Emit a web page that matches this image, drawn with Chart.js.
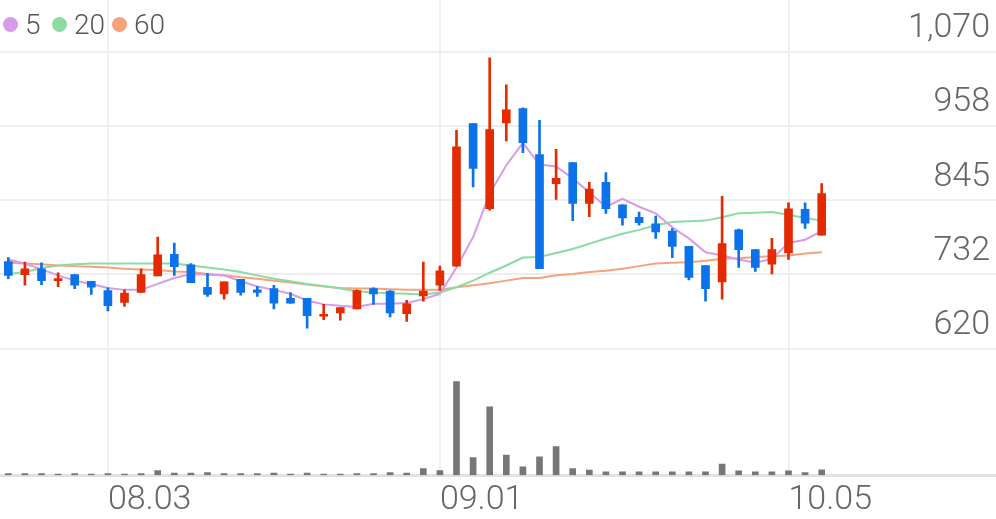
<!DOCTYPE html>
<html>
<head>
<meta charset="utf-8">
<script src="https://cdn.jsdelivr.net/npm/chart.js@4"></script>
<style>
  body { margin: 0; background: #fff; }
  #wrap { position: relative; width: 996px; height: 519px; overflow: hidden; }
  .dot { position: absolute; top: 17px; width: 15px; height: 15px; border-radius: 50%; }
  .lbl { position: absolute; top: 11px; font: 300 28px Roboto, sans-serif; line-height: 28px; color: #555; }
</style>
</head>
<body>
<div id="wrap">
  <canvas id="grafico" width="996" height="519"></canvas>
  <span class="dot" style="left:3px;background:#d89aea"></span><span class="lbl" style="left:25px">5</span>
  <span class="dot" style="left:52px;background:#8cdba3"></span><span class="lbl" style="left:74px">20</span>
  <span class="dot" style="left:112px;background:#f7a27b"></span><span class="lbl" style="left:134px">60</span>
</div>
<script>
// trading days (2020)
const dates = ['07.24','07.27','07.28','07.29','07.30','07.31',
  '08.03','08.04','08.05','08.06','08.07','08.10','08.11','08.12','08.13','08.14',
  '08.18','08.19','08.20','08.21','08.24','08.25','08.26','08.27','08.28','08.31',
  '09.01','09.02','09.03','09.04','09.07','09.08','09.09','09.10','09.11',
  '09.14','09.15','09.16','09.17','09.18','09.21','09.22','09.23','09.24','09.25',
  '09.28','09.29','10.05','10.06','10.07'];
const emptySlots = 10; // room on the right
const axisDates = ['08.03', '09.01', '10.05'];

const opens  = [752,732,741,723,732,722,708,690,705,730,763,747,713,703,725,709,711,696,696,669,674,680,711,707,673,700,716,745,961,832,962,984,914,870,902,840,872,838,819,809,798,775,746,721,800,770,748,765,831,792];
const closes = [731,741,723,726,716,713,685,704,732,762,744,720,702,721,705,705,689,689,670,672,682,708,703,674,688,707,738,926,893,952,982,932,741,878,840,862,832,818,811,797,775,728,711,779,770,743,770,832,810,855];
const highs  = [758,751,750,735,732,722,712,709,741,789,780,749,734,721,725,714,716,705,696,687,682,709,712,708,693,751,745,951,961,1061,1020,985,966,922,902,872,887,838,827,821,802,775,746,851,801,770,787,841,841,870];
const lows   = [726,716,717,714,711,702,677,684,705,730,731,720,699,695,701,699,680,689,651,664,663,680,687,668,661,692,708,745,865,830,935,917,741,846,814,820,825,807,807,787,758,724,692,695,743,737,733,755,802,792];

const ma5  = [755,749,740,731,723,718,712,709,709,718,727,733,732,731,722,714,709,703,693,687,685,683,688,688,689,695,703,743,789,855,898,932,899,896,878,857,835,847,835,825,804,787,766,761,755,750,756,780,785,798];
const ma20 = [733,736,742,746,748,749,749,749,749,749,749,746,743,740,736,731,726,722,718,715,711,707,705,704,703,702,705,713,723,735,746,758,759,765,771,779,787,794,800,807,812,813,814,819,825,826,827,823,818,814];
const ma60 = [750,749,748,746,745,744,743,741,740,739,737,736,733,731,728,726,723,720,717,714,712,711,711,710,709,709,709,713,716,719,723,727,727,731,733,736,738,741,745,749,750,751,753,756,757,759,760,761,764,766];

const volumes = [5000,5000,5000,3000,5000,3000,5000,3000,5000,14000,6000,6000,8000,5000,5000,5000,6000,3000,6000,3000,3000,5000,5000,8000,6000,
  20000,14000,281000,53000,205000,60000,25000,55000,86000,20000,15000,10000,10000,10000,10000,10000,10000,10000,33000,13000,10000,10000,13000,8000,16000];

const priceTicks = [620, 732.5, 845, 957.5, 1070];
const priceTickLabels = ['620', '732', '845', '958', '1,070'];

const RED = '#e32a00';
const BLUE = '#0b72e9';
const candleColors = opens.map((o, i) => closes[i] >= o ? RED : BLUE);

const labels = dates.concat(Array(emptySlots).fill(''));

const dados = {
  labels: labels,
  datasets: [
    { type: 'bar', data: opens.map((o, i) => [o, closes[i]]), backgroundColor: candleColors,
      barThickness: 8, minBarLength: 2, grouped: false, yAxisID: 'y', order: 0 },
    { type: 'bar', data: lows.map((l, i) => [l, highs[i]]), backgroundColor: candleColors,
      barThickness: 2, grouped: false, yAxisID: 'y', order: 1 },
    { type: 'line', label: '5', data: ma5, borderColor: '#d89aea', borderWidth: 2, pointRadius: 0, yAxisID: 'y', order: 2 },
    { type: 'line', label: '20', data: ma20, borderColor: '#8cdba3', borderWidth: 2, pointRadius: 0, yAxisID: 'y', order: 2 },
    { type: 'line', label: '60', data: ma60, borderColor: '#f7a27b', borderWidth: 2, pointRadius: 0, yAxisID: 'y', order: 2 },
    { type: 'bar', data: volumes, backgroundColor: '#777777', barThickness: 6, grouped: false, yAxisID: 'yv', order: 3 }
  ]
};

const noPad = s => { s.paddingTop = 0; s.paddingBottom = 0; s.paddingLeft = 0; s.paddingRight = 0; };

const config = {
  type: 'bar',
  data: dados,
  options: {
    responsive: false,
    animation: false,
    layout: { padding: { bottom: -7 } },
    plugins: { legend: { display: false }, tooltip: { enabled: false } },
    scales: {
      x: {
        offset: true,
        grid: {
          offset: false, drawTicks: false, lineWidth: 2,
          color: c => axisDates.includes(labels[c.index]) ? '#f0f0f0' : 'rgba(0,0,0,0)'
        },
        border: { display: true, color: '#e2e2e2', width: 3 },
        ticks: {
          autoSkip: false, maxRotation: 0, align: 'start', padding: 5,
          color: '#666', font: { family: 'Roboto', weight: '300', size: 34 },
          callback: function (v) { const l = this.getLabelForValue(v); return axisDates.includes(l) ? l : ''; }
        },
        afterFit: noPad
      },
      y: {
        position: 'right',
        min: 428, max: 1148.5,
        afterBuildTicks: s => { s.ticks = priceTicks.map(v => ({ value: v })); },
        afterFit: s => { noPad(s); s.width = 0; },
        grid: { drawTicks: false, color: '#eeeeee', lineWidth: 2 },
        border: { display: false },
        ticks: {
          mirror: true, padding: -6, labelOffset: -23,
          color: '#666', font: { family: 'Roboto', weight: '300', size: 34 },
          callback: (v, i) => priceTickLabels[i]
        }
      },
      yv: {
        display: false,
        min: 0, max: 1425000
      }
    }
  }
};

const grafico = new Chart(document.getElementById('grafico').getContext('2d'), config);
</script>
</body>
</html>
